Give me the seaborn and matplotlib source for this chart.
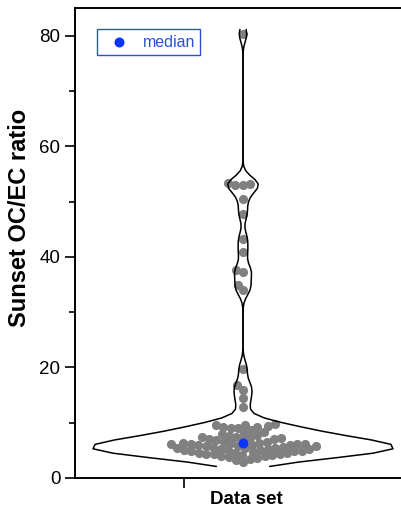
import numpy as np
import pandas as pd
import matplotlib
matplotlib.use("Agg")
import matplotlib.pyplot as plt
import seaborn as sns
from matplotlib.ticker import MultipleLocator

# ---- data ----
low_cluster = [2.9, 3.3, 3.5, 3.6, 3.8, 3.9, 4.0, 4.1, 4.2, 4.3, 4.4, 4.4, 4.5, 4.6, 4.6,
               4.7, 4.8, 4.8, 4.9, 5.0, 5.0, 5.1, 5.2, 5.2, 5.3, 5.4, 5.4, 5.5, 5.6, 5.6,
               5.7, 5.8, 5.8, 5.9, 6.0, 6.0, 6.1, 6.1, 6.2, 6.2, 6.3, 6.3, 6.3,
               6.5, 6.6, 6.8, 6.9, 7.0, 7.1, 7.2, 7.3, 7.4, 7.5, 7.6, 7.8,
               8.0, 8.1, 8.3, 8.6, 9.0, 9.1, 9.2, 9.3, 9.4, 9.5, 9.6, 9.8]
mid_values = [12.8, 14.4, 16.0, 16.8, 19.8]
high_cluster = [34.0, 34.9, 37.2, 37.6, 40.8, 43.3, 47.8, 50.5, 52.9, 53.0, 53.1, 53.3]
top_values = [80.3]

y_ticks = [0, 20, 40, 60, 80]
y_label = "Sunset OC/EC ratio"
x_label = "Data set"
legend_label = "median"

values = np.array(low_cluster + mid_values + high_cluster + top_values)
df = pd.DataFrame({"ratio": values})

sns.set_style("ticks")
plt.rcParams["font.family"] = ["Liberation Sans", "DejaVu Sans"]
plt.rcParams["text.color"] = "black"
plt.rcParams["axes.labelcolor"] = "black"
plt.rcParams["xtick.color"] = "black"
plt.rcParams["ytick.color"] = "black"

W, H = 401, 515
fig = plt.figure(figsize=(W / 100, H / 100), dpi=100)
ax = fig.add_axes([75 / W, 37 / H, 326 / W, 470 / H])

bw = 1.35 / np.std(values, ddof=1)
sns.violinplot(data=df, y="ratio", ax=ax, color="white", saturation=1,
               linewidth=0, inner=None, cut=0.6, bw_method=bw, width=0.9)
body = ax.collections[0]
body.set_zorder(1)
verts = body.get_paths()[0].vertices
for side in (verts[verts[:, 0] < 0], verts[verts[:, 0] > 0]):
    side = side[np.argsort(side[:, 1])]
    ax.plot(side[:, 0], side[:, 1], color="black", lw=1.1, zorder=4)

ax.set_xlim(-0.504, 0.474)
ax.set_ylim(0, 85)

n_before = len(ax.collections)
sns.swarmplot(data=df, y="ratio", ax=ax, color="#808080", size=5.2, linewidth=0)
swarm = ax.collections[n_before]
ax.set_xlim(-0.504, 0.474)
ax.set_ylim(0, 85)
fig.canvas.draw()
offs = swarm.get_offsets().copy()
swarm.remove()
ax.scatter(offs[:, 0], offs[:, 1], s=6.6 ** 2, color="#808080", linewidths=0, zorder=2)

med = np.median(values)
ax.scatter([0], [med], s=7.2 ** 2, color="#0a35ff", linewidths=0, zorder=5, label=legend_label)

ax.set_xlim(-0.504, 0.474)
ax.set_ylim(0, 85)
ax.set_yticks(y_ticks)
ax.yaxis.set_minor_locator(MultipleLocator(10))
ax.set_xticks([-0.177])
ax.set_xticklabels([""])
ax.tick_params(axis="both", which="major", length=7, width=1.2, labelsize=13.5, color="black",
               labelcolor="black", direction="out")
ax.tick_params(axis="y", which="minor", length=4, width=1.2, color="black", direction="out")

for s in ["left", "bottom", "top"]:
    ax.spines[s].set_visible(True)
    ax.spines[s].set_linewidth(1.4)
    ax.spines[s].set_color("black")
ax.spines["right"].set_visible(False)

ax.set_xlabel(x_label, fontsize=13.5, fontweight="bold", color="black")
ax.set_ylabel(y_label, fontsize=17, fontweight="bold", color="black")
ax.xaxis.set_label_coords((246 - 75) / 326, -0.028)
ax.yaxis.set_label_coords((31 - 75) / 326, (478 - 218) / 470)

leg = ax.legend(loc="upper left", bbox_to_anchor=(22 / 326, 1 - 21 / 470), borderaxespad=0,
                fontsize=11.5, labelcolor="#2a50d8", frameon=True, fancybox=False,
                framealpha=1, edgecolor="#2a50d8", handletextpad=0.5, scatterpoints=1,
                borderpad=0.35)
leg.get_frame().set_linewidth(1.0)

fig.savefig("out.png", dpi=100)
